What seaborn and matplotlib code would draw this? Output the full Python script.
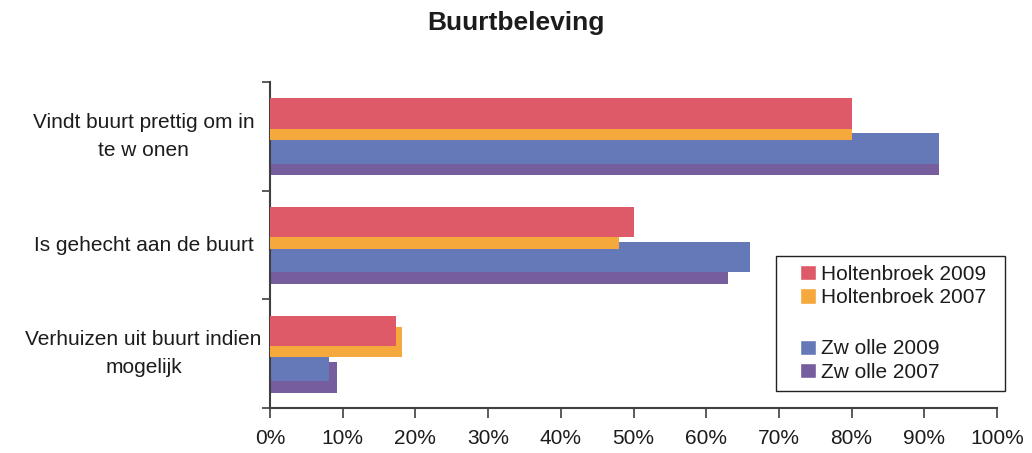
import matplotlib
matplotlib.use("Agg")
import matplotlib.pyplot as plt
import seaborn as sns
import pandas as pd
from matplotlib.patches import Patch, Rectangle

categories = ["Vindt buurt prettig om in\nte w onen",
              "Is gehecht aan de buurt",
              "Verhuizen uit buurt indien\nmogelijk"]
series = ["Holtenbroek 2009", "Holtenbroek 2007", "Zw olle 2009", "Zw olle 2007"]
holtenbroek_2009 = [80, 50, 17.3]
holtenbroek_2007 = [80, 48, 18.2]
zwolle_2009 = [92, 66, 8.1]
zwolle_2007 = [92, 63, 9.2]
colors = ["#DE5A68", "#F5A83B", "#6579B9", "#765D9E"]
x_ticks = list(range(0, 101, 10))

values = [holtenbroek_2009, holtenbroek_2007, zwolle_2009, zwolle_2007]
rows = []
for s, vals in zip(series, values):
    for c, v in zip(categories, vals):
        rows.append({"category": c, "series": s, "value": v})
df = pd.DataFrame(rows)

sns.set_style("white")
plt.rcParams["font.family"] = ["Liberation Sans", "DejaVu Sans"]
TXT = "#1c1c1c"

fig = plt.figure(figsize=(10.32, 4.53), dpi=100)
ax = fig.add_axes([270/1032, 45/453, 727/1032, 326/453])

sns.barplot(data=df, y="category", x="value", hue="series", hue_order=series,
            order=categories, palette=colors, orient="h", saturation=1,
            errorbar=None, legend=False, ax=ax)

offsets = [-0.21, -0.105, 0.11, 0.22]
zorders = [4, 3, 2, 1]
h = 0.28
for k, cont in enumerate(ax.containers):
    for j, bar in enumerate(cont):
        bar.set_y(j + offsets[k] - h/2)
        bar.set_height(h)
        bar.set_zorder(zorders[k])
        bar.set_linewidth(0)

ax.set_ylim(2.5, -0.5)
ax.set_xlim(0, 100)
ax.set_xticks(x_ticks)
ax.set_xticklabels([f"{t}%" for t in x_ticks], fontsize=15, color=TXT)
ax.set_yticks([0, 1, 2])
ax.set_yticklabels(categories, fontsize=15, color=TXT)
for lab in ax.get_yticklabels():
    lab.set_horizontalalignment("center")
    lab.set_verticalalignment("center")
    lab.set_multialignment("center")
    lab.set_linespacing(1.62)
ax.tick_params(axis="y", which="major", length=0, pad=91)
ax.set_yticks([-0.5, 0.5, 1.5, 2.5], minor=True)
ax.tick_params(axis="y", which="minor", length=6, width=1.2, color="#404040", direction="out", left=True)
ax.tick_params(axis="x", which="major", length=7, width=1.2, color="#404040", direction="out", bottom=True, pad=8)
ax.set_xlabel("")
ax.set_ylabel("")
for sp in ["top", "right"]:
    ax.spines[sp].set_visible(False)
for sp in ["left", "bottom"]:
    ax.spines[sp].set_color("#404040")
    ax.spines[sp].set_linewidth(1.5)
ax.grid(False)

fig.suptitle("Buurtbeleving", x=516/1032, y=1-11/453, va="top", fontsize=19,
             fontweight="bold", color=TXT)

handles = [Patch(facecolor=colors[0]), Patch(facecolor=colors[1]),
           Patch(facecolor="none", edgecolor="none"),
           Patch(facecolor=colors[2]), Patch(facecolor=colors[3])]
labels = [series[0], series[1], " ", series[2], series[3]]
leg = fig.legend(handles, labels, loc="upper left", bbox_to_anchor=(800/1032, 1-265/453),
                 fontsize=15, frameon=False, labelcolor=TXT,
                 handlelength=0.75, handleheight=0.75, handletextpad=0.28,
                 labelspacing=0.2, borderpad=0, borderaxespad=0)
leg.get_texts()[2].set_fontsize(19)
fig.add_artist(Rectangle((776/1032, 1-391/453), 229/1032, 135/453,
                         transform=fig.transFigure, fill=False,
                         edgecolor="#222222", linewidth=1.0))

fig.savefig("out.png", dpi=100, facecolor="white")
